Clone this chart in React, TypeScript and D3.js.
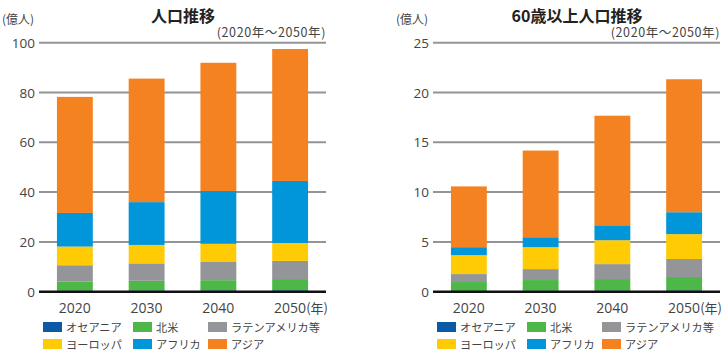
import * as React from "react";
import * as d3 from "d3";

const years = ["2020", "2030", "2040", "2050"];
const regions = ["オセアニア", "北米", "ラテンアメリカ等", "ヨーロッパ", "アフリカ", "アジア"];
const colors = ["#0a5aa8", "#4db848", "#939598", "#ffcb05", "#0096d9", "#f58220"];

// 人口 (億人)
const totalOceania = [0.43, 0.48, 0.53, 0.57];
const totalNorthAmerica = [3.7, 3.9, 4.1, 4.5];
const totalLatinAmerica = [6.5, 7.0, 7.3, 7.3];
const totalEurope = [7.5, 7.4, 7.3, 7.2];
const totalAfrica = [13.5, 17.2, 21.2, 24.9];
const totalAsia = [46.6, 49.6, 51.5, 53.0];

// 60歳以上人口 (億人)
const elderOceania = [0.07, 0.1, 0.12, 0.13];
const elderNorthAmerica = [0.9, 1.07, 1.15, 1.35];
const elderLatinAmerica = [0.8, 1.1, 1.5, 1.8];
const elderEurope = [1.9, 2.2, 2.4, 2.5];
const elderAfrica = [0.8, 1.0, 1.5, 2.2];
const elderAsia = [6.1, 8.7, 11.0, 13.35];

const leftTicks = [0, 20, 40, 60, 80, 100];
const rightTicks = [0, 5, 10, 15, 20, 25];

const FONT = "'Noto Sans CJK JP', 'Noto Sans', sans-serif";
const NUM_FONT = "'Open Sans', 'Noto Sans', sans-serif";
const TEXT = "#444";

type Row = { year: string; [k: string]: number | string };

function buildRows(series: number[][]): Row[] {
  return years.map((year, i) => {
    const row: Row = { year };
    regions.forEach((r, j) => (row[r] = series[j][i]));
    return row;
  });
}

interface PanelProps {
  left: number;
  title: string;
  rows: Row[];
  ticks: number[];
}

function Panel({ left, title, rows, ticks }: PanelProps) {
  const x0 = left + 39;
  const x1 = left + 326;
  const yTop = 42.7;
  const yBottom = 291.7;

  const x = d3.scaleBand<string>().domain(years).range([x0, x1]).paddingInner(0.5).paddingOuter(0.25);
  const y = d3.scaleLinear().domain([0, ticks[ticks.length - 1]]).range([yBottom, yTop]);
  const stack = d3.stack<Row>().keys(regions).value((d, k) => d[k] as number);
  const layers = stack(rows);
  const last = years[years.length - 1];

  return (
    <g fontFamily={FONT}>
      <text x={left + 183} y={22} textAnchor="middle" fontSize={16} fontWeight="bold" fill="#222">
        {title}
      </text>
      <text x={left + 2} y={24} fontSize={12} fill={TEXT}>
        (億人)
      </text>
      <text x={x1} y={37} textAnchor="end" fontSize={12.5} fill={TEXT} letterSpacing={0.6}>
        (2020年～2050年)
      </text>

      {/* gridlines */}
      {ticks.filter((t) => t > 0).map((t) => (
        <line key={t} x1={x0} x2={x1} y1={y(t)} y2={y(t)} stroke="#929497" strokeWidth={2} />
      ))}
      {ticks.map((t) => (
        <text
          key={`l${t}`}
          x={x0 - 4}
          y={y(t) + 5}
          textAnchor="end"
          fontSize={13.5}
          fontFamily={NUM_FONT}
          fill={TEXT}
        >
          {t}
        </text>
      ))}

      {/* bars */}
      {layers.map((layer, i) => (
        <g key={layer.key} fill={colors[i]}>
          {layer.map((d) => (
            <rect
              key={d.data.year}
              x={x(d.data.year as string)}
              y={y(d[1])}
              width={x.bandwidth()}
              height={y(d[0]) - y(d[1])}
            />
          ))}
        </g>
      ))}

      <line x1={x0} x2={x1} y1={yBottom} y2={yBottom} stroke="#111" strokeWidth={2.5} />

      {years.map((yr) => (
        <text
          key={yr}
          x={x(yr)! + x.bandwidth() / 2}
          y={313}
          textAnchor="middle"
          fontSize={14}
          fontFamily={NUM_FONT}
          fill={TEXT}
        >
          {yr}
        </text>
      ))}
      <text x={x(last)! + x.bandwidth() / 2 + 16} y={313} fontSize={13} fill={TEXT}>
        (年)
      </text>

      {/* legend */}
      {regions.map((r, i) => {
        const col = i % 3;
        const row = Math.floor(i / 3);
        const lx = left + [43, 133, 208][col];
        const ly = 322 + row * 17;
        return (
          <g key={r}>
            <rect x={lx} y={ly} width={19} height={10} fill={colors[i]} />
            <text x={lx + 23} y={ly + 10} fontSize={11.2} fill={TEXT}>
              {r}
            </text>
          </g>
        );
      })}
    </g>
  );
}

export default function App() {
  const totalRows = buildRows([
    totalOceania,
    totalNorthAmerica,
    totalLatinAmerica,
    totalEurope,
    totalAfrica,
    totalAsia,
  ]);
  const elderRows = buildRows([
    elderOceania,
    elderNorthAmerica,
    elderLatinAmerica,
    elderEurope,
    elderAfrica,
    elderAsia,
  ]);

  return (
    <svg
      width={727}
      height={354}
      style={{ position: "absolute", left: 0, top: 0, background: "#fff" }}
    >
      <Panel left={0} title="人口推移" rows={totalRows} ticks={leftTicks} />
      <Panel left={394} title="60歳以上人口推移" rows={elderRows} ticks={rightTicks} />
    </svg>
  );
}
